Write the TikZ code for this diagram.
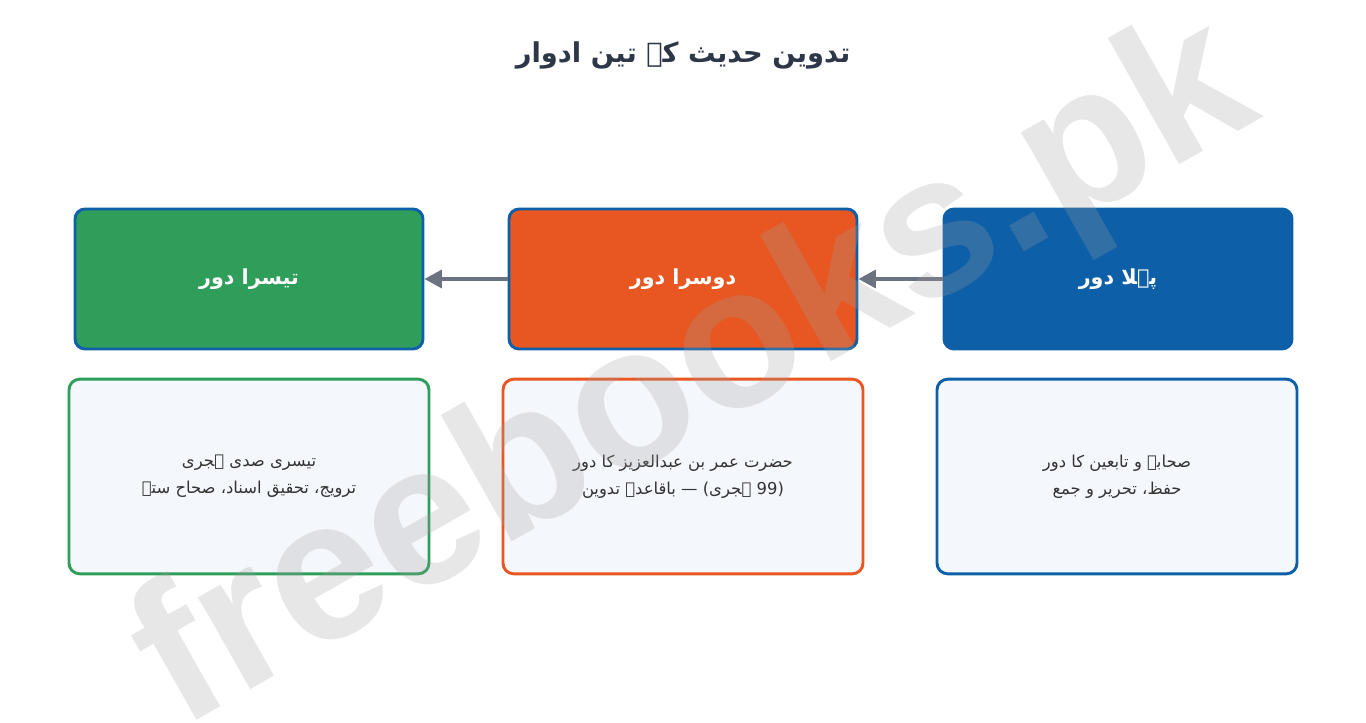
\documentclass[tikz,border=0pt]{standalone}
\usepackage{fontspec}
\setmainfont{Liberation Sans}
\newfontfamily\urdu[Script=Arabic]{DejaVu Sans}
\TeXXeTstate=1
\usetikzlibrary{arrows.meta}
\definecolor{titlegray}{HTML}{2D3748}
\definecolor{textgray}{HTML}{333333}
\definecolor{arrowgray}{HTML}{6B7280}
\definecolor{periodgreen}{HTML}{2E9E5A}
\definecolor{periodorange}{HTML}{E85721}
\definecolor{periodblue}{HTML}{0D5FA8}
\definecolor{notefill}{HTML}{F4F7FC}
\definecolor{markgray}{HTML}{9F9F9F}

\begin{document}
\begin{tikzpicture}[x=0.75pt, y=-0.75pt,
    period/.style={draw=periodblue, line width=2.2pt, rounded corners=7.5pt,
      minimum width=261pt, minimum height=105pt, text=white,
      font=\urdu\bfseries\fontsize{15.5}{20}\selectfont},
    note/.style={fill=notefill, line width=2.2pt, rounded corners=8pt,
      minimum width=270pt, minimum height=146pt, text=textgray, align=center,
      font=\urdu\fontsize{12.3}{20}\selectfont},
    link/.style={draw=arrowgray, line width=2.3pt, -{Triangle[length=13pt,width=13.5pt]}}]
  \useasboundingbox (0,0) rectangle (1366,723);

  \node[text=titlegray, font=\urdu\bfseries\fontsize{20.5}{24}\selectfont] (title) at (683,55)
    {\beginR تدوین حدیث کے تین ادوار\endR};

  \node[period, fill=periodblue] (period1) at (1118,279) {\beginR پہلا دور\endR};
  \node[period, fill=periodorange] (period2) at (683,279) {\beginR دوسرا دور\endR};
  \node[period, fill=periodgreen] (period3) at (249,279) {\beginR تیسرا دور\endR};

  \node[note, draw=periodblue] (note1) at (1117,476.5)
    {\beginR صحابہ و تابعین کا دور\endR\\ \beginR حفظ، تحریر و جمع\endR};
  \node[note, draw=periodorange] (note2) at (683,476.5)
    {\beginR حضرت عمر بن عبدالعزیز کا دور\endR\\ \beginR (99 ہجری) — باقاعدہ تدوین\endR};
  \node[note, draw=periodgreen] (note3) at (249,476.5)
    {\beginR تیسری صدی ہجری\endR\\ \beginR ترویج، تحقیق اسناد، صحاح ستہ\endR};

  \draw[link] (period1) -- (period2);
  \draw[link] (period2) -- (period3);

  % watermark over everything
  \node[rotate=29.5, text=markgray, text opacity=0.25,
    font=\bfseries\fontsize{150}{150}\selectfont] (watermark) at (697,378) {freebooks.pk};
\end{tikzpicture}
\end{document}
